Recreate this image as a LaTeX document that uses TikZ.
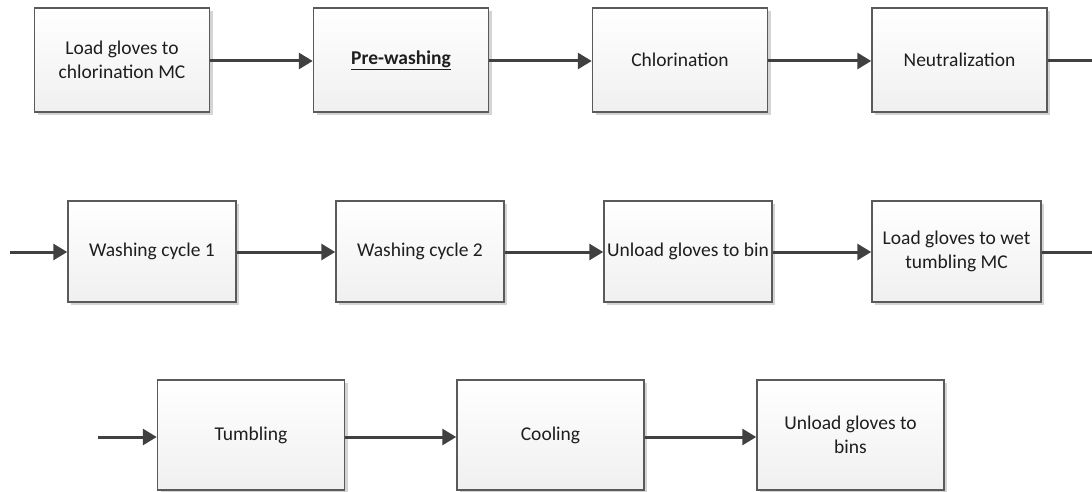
\documentclass[tikz,border=0pt]{standalone}
\usepackage{fontspec}
\setmainfont{Carlito}
\usetikzlibrary{arrows.meta,shadows}
\definecolor{boxline}{HTML}{5A5A5A}
\definecolor{arrowcol}{HTML}{404040}
\definecolor{txtcol}{HTML}{1E1E1E}
\definecolor{shadowcol}{HTML}{D4D4D4}
\tikzset{
  procbox/.style={draw=boxline, line width=1.5pt, top color=white, bottom color=gray!12,
    align=center, inner sep=0pt, text=txtcol, font=\fontsize{19.5}{24}\selectfont,
    drop shadow={shadow xshift=3pt, shadow yshift=-3pt, fill=shadowcol, opacity=1}},
  row1/.style={procbox, minimum width=175pt, minimum height=104pt},
  row2/.style={procbox, minimum width=168pt, minimum height=101pt},
  row3/.style={procbox, minimum width=187pt, minimum height=110pt},
  flow/.style={draw=arrowcol, line width=3pt, -{Triangle[length=14pt,width=16pt]}},
  flowend/.style={draw=arrowcol, line width=3pt}
}
\begin{document}
\begin{tikzpicture}[x=1pt,y=-1pt]
\useasboundingbox (0,0) rectangle (1092,492);
% row 1
\node[row1] (b1) at (122,60) {Load gloves to\\chlorination MC};
\node[row1] (b2) at (401,60) {\textbf{\underline{Pre-washing}}};
\node[row1] (b3) at (680,60) {Chlorination};
\node[row1] (b4) at (959.5,60) {Neutralization};
\coordinate (o1) at (1092,61);
% row 2
\coordinate (i2) at (10,252);
\node[row2] (b5) at (152,251.5) {Washing cycle 1};
\node[row2] (b6) at (420,251.5) {Washing cycle 2};
\node[row2] (b7) at (688,251.5) {Unload gloves to bin};
\node[row2, minimum width=169pt] (b8) at (956.5,251.5) {Load gloves to wet\\tumbling MC};
\coordinate (o2) at (1092,252);
% row 3
\coordinate (i3) at (98,437);
\node[row3] (b9) at (251,435) {Tumbling};
\node[row3] (b10) at (550.5,435) {Cooling};
\node[row3] (b11) at (850.5,435) {Unload gloves to\\bins};
% connectors
\draw[flow] (b1.east |- 0,61) -- (b2.west |- 0,61);
\draw[flow] (b2.east |- 0,61) -- (b3.west |- 0,61);
\draw[flow] (b3.east |- 0,61) -- (b4.west |- 0,61);
\draw[flowend] (b4.east |- o1) -- (o1);
\draw[flow] (i2) -- (b5.west |- i2);
\draw[flow] (b5.east |- i2) -- (b6.west |- i2);
\draw[flow] (b6.east |- i2) -- (b7.west |- i2);
\draw[flow] (b7.east |- i2) -- (b8.west |- i2);
\draw[flowend] (b8.east |- o2) -- (o2);
\draw[flow] (i3) -- (b9.west |- i3);
\draw[flow] (b9.east |- i3) -- (b10.west |- i3);
\draw[flow] (b10.east |- i3) -- (b11.west |- i3);
\end{tikzpicture}
\end{document}
